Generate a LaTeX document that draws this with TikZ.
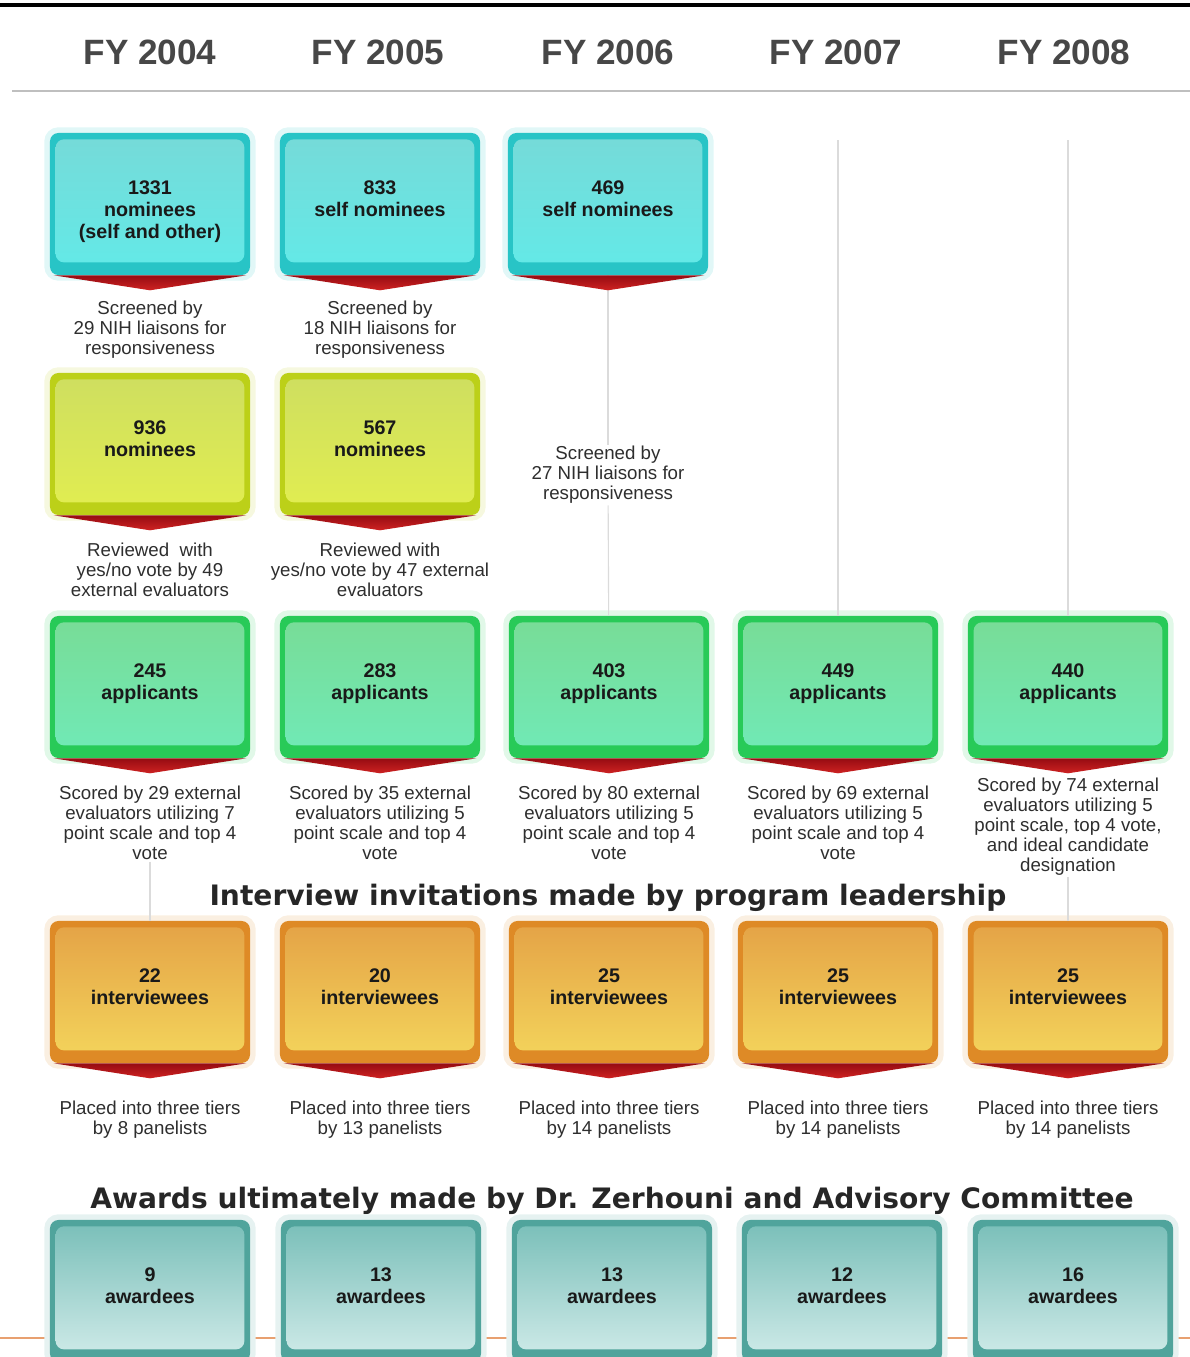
\documentclass[tikz,border=0pt]{standalone}
\usepackage{fontspec}
\setmainfont{Liberation Sans}
\newfontfamily\bannerfont{DejaVu Sans}
\usetikzlibrary{positioning, calc}

\definecolor{nomrim}{RGB}{40,196,198}
\definecolor{nomtop}{RGB}{118,218,216}
\definecolor{nommid}{RGB}{58,214,214}
\definecolor{nombot}{RGB}{98,234,232}
\definecolor{revrim}{RGB}{188,208,24}
\definecolor{revtop}{RGB}{206,222,96}
\definecolor{revmid}{RGB}{212,230,44}
\definecolor{revbot}{RGB}{226,238,80}
\definecolor{apprim}{RGB}{40,202,88}
\definecolor{apptop}{RGB}{120,220,150}
\definecolor{appmid}{RGB}{50,214,108}
\definecolor{appbot}{RGB}{112,234,184}
\definecolor{intrim}{RGB}{222,138,38}
\definecolor{inttop}{RGB}{228,162,70}
\definecolor{intmid}{RGB}{234,180,60}
\definecolor{intbot}{RGB}{244,214,92}
\definecolor{awdrim}{RGB}{80,164,156}
\definecolor{awdtop}{RGB}{120,190,184}
\definecolor{awdmid}{RGB}{104,184,176}
\definecolor{awdbot}{RGB}{210,236,234}
\definecolor{ptrtop}{RGB}{150,12,18}
\definecolor{ptrbot}{RGB}{206,34,34}
\definecolor{awdline}{RGB}{232,160,112}

\begin{document}
\begin{tikzpicture}[
x=0.025cm, y=-0.025cm,
stagebox/.style n args={4}{
rectangle,
rounded corners=6pt,
minimum width=5cm,
minimum height=3.55cm,
inner sep=0pt,
font=\bfseries\fontsize{14}{15.6}\selectfont,
text=black!90,
execute at begin node={\begin{minipage}[c][1.18cm][t]{4.6cm}\centering},
execute at end node={\end{minipage}},
fill=#1,
preaction={draw=#1!14, line width=8pt},
path picture={
\shade[top color=#2, middle color=#3, bottom color=#4, rounded corners=6pt]
([shift={(4pt,-4.5pt)}]path picture bounding box.north west) rectangle
([shift={(-4pt,9pt)}]path picture bounding box.south east);
}
},
nombox/.style={stagebox={nomrim}{nomtop}{nommid}{nombot}},
revbox/.style={stagebox={revrim}{revtop}{revmid}{revbot}},
appbox/.style={stagebox={apprim}{apptop}{appmid}{appbot}},
intbox/.style={stagebox={intrim}{inttop}{intmid}{intbot}},
awdbox/.style={stagebox={awdrim}{awdtop}{awdmid}{awdbot}},
pointer/.style={top color=ptrtop, bottom color=ptrbot},
note/.style={align=center, font=\fontsize{13.3}{14.2}\selectfont, text=black!82, inner sep=1pt},
year/.style={font=\bfseries\fontsize{25}{30}\selectfont, text=black!72},
banner/.style={font=\bannerfont\bfseries\fontsize{20}{24}\selectfont, text=black!85},
link/.style={draw=black!14, line width=0.8pt}
]
\useasboundingbox (0,0) rectangle (1190,1357);

% header
\draw[line width=2.8pt] (0,5) -- (1190,5);
\draw[black!25, line width=1.2pt] (12,91) -- (1190,91);
\foreach \y/\x in {2004/150, 2005/378, 2006/608, 2007/836, 2008/1064}
\node[year] (fy\y) at (\x,52) {FY \y};

% line behind the awards
\draw[awdline, line width=1.5pt] (0,1338) -- (1190,1338);

% nominations
\node[nombox] (nom04) at (150,204) {1331\\nominees\\(self and other)};
\node[nombox] (nom05) at (380,204) {833\\self nominees};
\node[nombox] (nom06) at (608,204) {469\\self nominees};
\node[note] (scr04) at (150,330) {Screened by\\29 NIH liaisons for\\responsiveness};
\node[note] (scr05) at (380,330) {Screened by\\18 NIH liaisons for\\responsiveness};
\node[note] (scr06) at (608,475) {Screened by\\27 NIH liaisons for\\responsiveness};

\node[revbox] (rev04) at (150,444) {936\\nominees};
\node[revbox] (rev05) at (380,444) {567\\nominees};
\node[note] (yes04) at (150,570) {Reviewed\ \ with\\yes/no vote by 49\\external evaluators};
\node[note] (yes05) at (380,570) {Reviewed with\\yes/no vote by 47 external\\evaluators};

% applicants
\foreach \n/\x/\t in {app04/150/245, app05/380/283, app06/609/403, app07/838/449, app08/1068/440}
\node[appbox] (\n) at (\x,687) {\t\\applicants};
\node[note] (sco04) at (150,823) {Scored by 29 external\\evaluators utilizing 7\\point scale and top 4\\vote};
\node[note] (sco05) at (380,823) {Scored by 35 external\\evaluators utilizing 5\\point scale and top 4\\vote};
\node[note] (sco06) at (609,823) {Scored by 80 external\\evaluators utilizing 5\\point scale and top 4\\vote};
\node[note] (sco07) at (838,823) {Scored by 69 external\\evaluators utilizing 5\\point scale and top 4\\vote};
\node[note] (sco08) at (1068,827) {Scored by 74 external\\evaluators utilizing 5\\point scale, top 4 vote,\\and ideal candidate\\designation};

\node[banner] (invite) at (608,898) {Interview invitations made by program leadership};

% interviews
\foreach \n/\x/\t in {int04/150/22, int05/380/20, int06/609/25, int07/838/25, int08/1068/25}
\node[intbox] (\n) at (\x,992) {\t\\interviewees};
\foreach \n/\x/\t in {pla04/150/8, pla05/380/13, pla06/609/14, pla07/838/14, pla08/1068/14}
\node[note] (\n) at (\x,1120) {Placed into three tiers\\by \t\ panelists};

\node[banner] (award) at (612,1201) {Awards ultimately made by Dr. Zerhouni and Advisory Committee};

% awards
\foreach \n/\x/\t in {awd04/150/9, awd05/381/13, awd06/612/13, awd07/842/12, awd08/1073/16}
\node[awdbox] (\n) at (\x,1291) {\t\\awardees};

% connectors
\coordinate (top07) at (838,140);
\coordinate (top08) at (1068,140);
\draw[link] (nom06) -- (scr06);
\draw[link] (scr06) -- (app06);
\draw[link] (top07) -- (app07);
\draw[link] (top08) -- (app08);
\draw[link] (sco04) -- (int04);
\draw[link] (sco08) -- (int08);

% red pointers
\foreach \n in {nom04, nom05, nom06, rev04, rev05, app04, app05, app06, app07, app08, int04, int05, int06, int07, int08}
\shade[pointer] ($(\n.south west)+(4,0)$) -- ($(\n.south east)+(-4,0)$) -- ($(\n.south)+(0,15)$) -- cycle;
\end{tikzpicture}
\end{document}
